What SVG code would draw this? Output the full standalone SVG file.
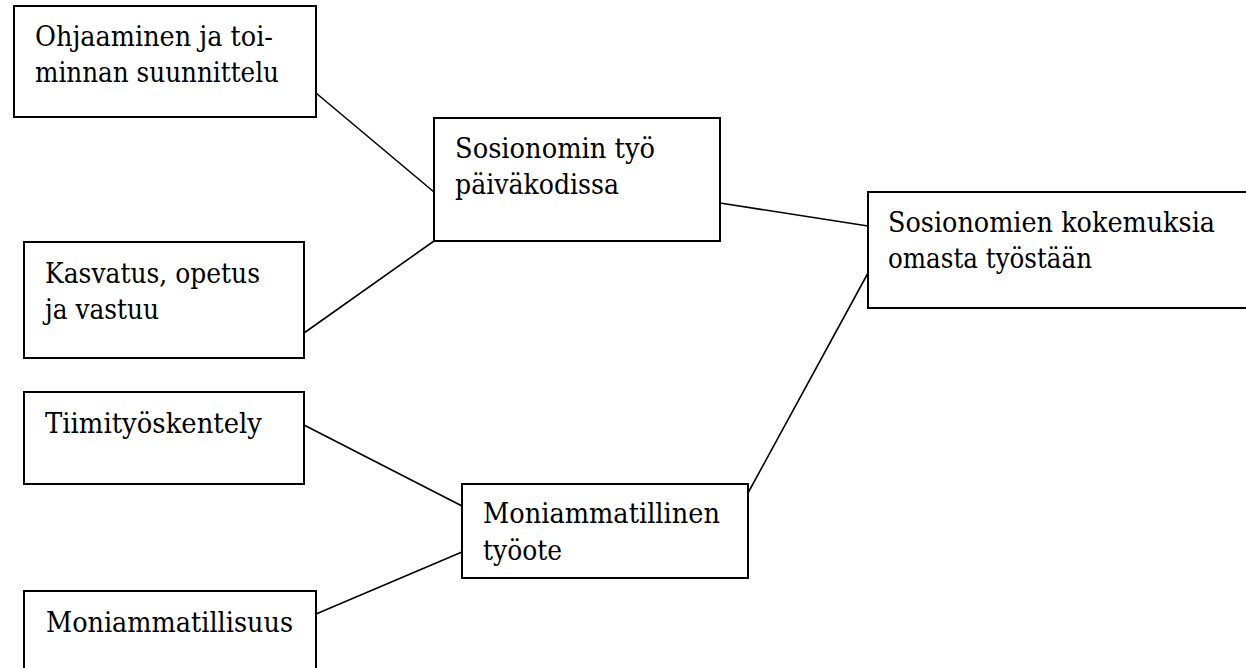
<svg xmlns="http://www.w3.org/2000/svg" width="1246" height="668" viewBox="0 0 1246 668">
<style>
.box{fill:#fff;stroke:#000;stroke-width:2}
.lbl{font-family:'DejaVu Serif','Liberation Serif',serif;font-size:28px;fill:#000}
.con{stroke:#000;stroke-width:1.6;fill:none}
</style>
<rect width="1246" height="668" fill="#fff"/>
<g id="connectors">
<line class="con" x1="316" y1="93" x2="434" y2="192"/>
<line class="con" x1="304" y1="333" x2="434" y2="241"/>
<line class="con" x1="720" y1="203" x2="868" y2="226"/>
<line class="con" x1="304" y1="425" x2="462" y2="506"/>
<line class="con" x1="316" y1="614" x2="462" y2="552"/>
<line class="con" x1="748" y1="493" x2="868" y2="273"/>
</g>
<g id="n1">
<rect class="box" x="14" y="6" width="302" height="111"/>
<text class="lbl" x="35" y="46" textLength="238" lengthAdjust="spacingAndGlyphs">Ohjaaminen ja toi-</text>
<text class="lbl" x="35" y="82" textLength="244" lengthAdjust="spacingAndGlyphs">minnan suunnittelu</text>
</g>
<g id="n2">
<rect class="box" x="24" y="242" width="280" height="116"/>
<text class="lbl" x="45" y="283" textLength="215" lengthAdjust="spacingAndGlyphs">Kasvatus, opetus</text>
<text class="lbl" x="45" y="319" textLength="114" lengthAdjust="spacingAndGlyphs">ja vastuu</text>
</g>
<g id="n3">
<rect class="box" x="434" y="118" width="286" height="123"/>
<text class="lbl" x="455" y="158" textLength="200" lengthAdjust="spacingAndGlyphs">Sosionomin työ</text>
<text class="lbl" x="455" y="194" textLength="164" lengthAdjust="spacingAndGlyphs">päiväkodissa</text>
</g>
<g id="n4">
<rect class="box" x="868" y="192" width="400" height="116"/>
<text class="lbl" x="888" y="232" textLength="327" lengthAdjust="spacingAndGlyphs">Sosionomien kokemuksia</text>
<text class="lbl" x="888" y="268" textLength="204" lengthAdjust="spacingAndGlyphs">omasta työstään</text>
</g>
<g id="n5">
<rect class="box" x="24" y="392" width="280" height="92"/>
<text class="lbl" x="45" y="433" textLength="217" lengthAdjust="spacingAndGlyphs">Tiimityöskentely</text>
</g>
<g id="n6">
<rect class="box" x="462" y="484" width="286" height="94"/>
<text class="lbl" x="483" y="523" textLength="237" lengthAdjust="spacingAndGlyphs">Moniammatillinen</text>
<text class="lbl" x="483" y="560" textLength="79" lengthAdjust="spacingAndGlyphs">työote</text>
</g>
<g id="n7">
<rect class="box" x="24" y="591" width="292" height="100"/>
<text class="lbl" x="46" y="632" textLength="247" lengthAdjust="spacingAndGlyphs">Moniammatillisuus</text>
</g>
</svg>
